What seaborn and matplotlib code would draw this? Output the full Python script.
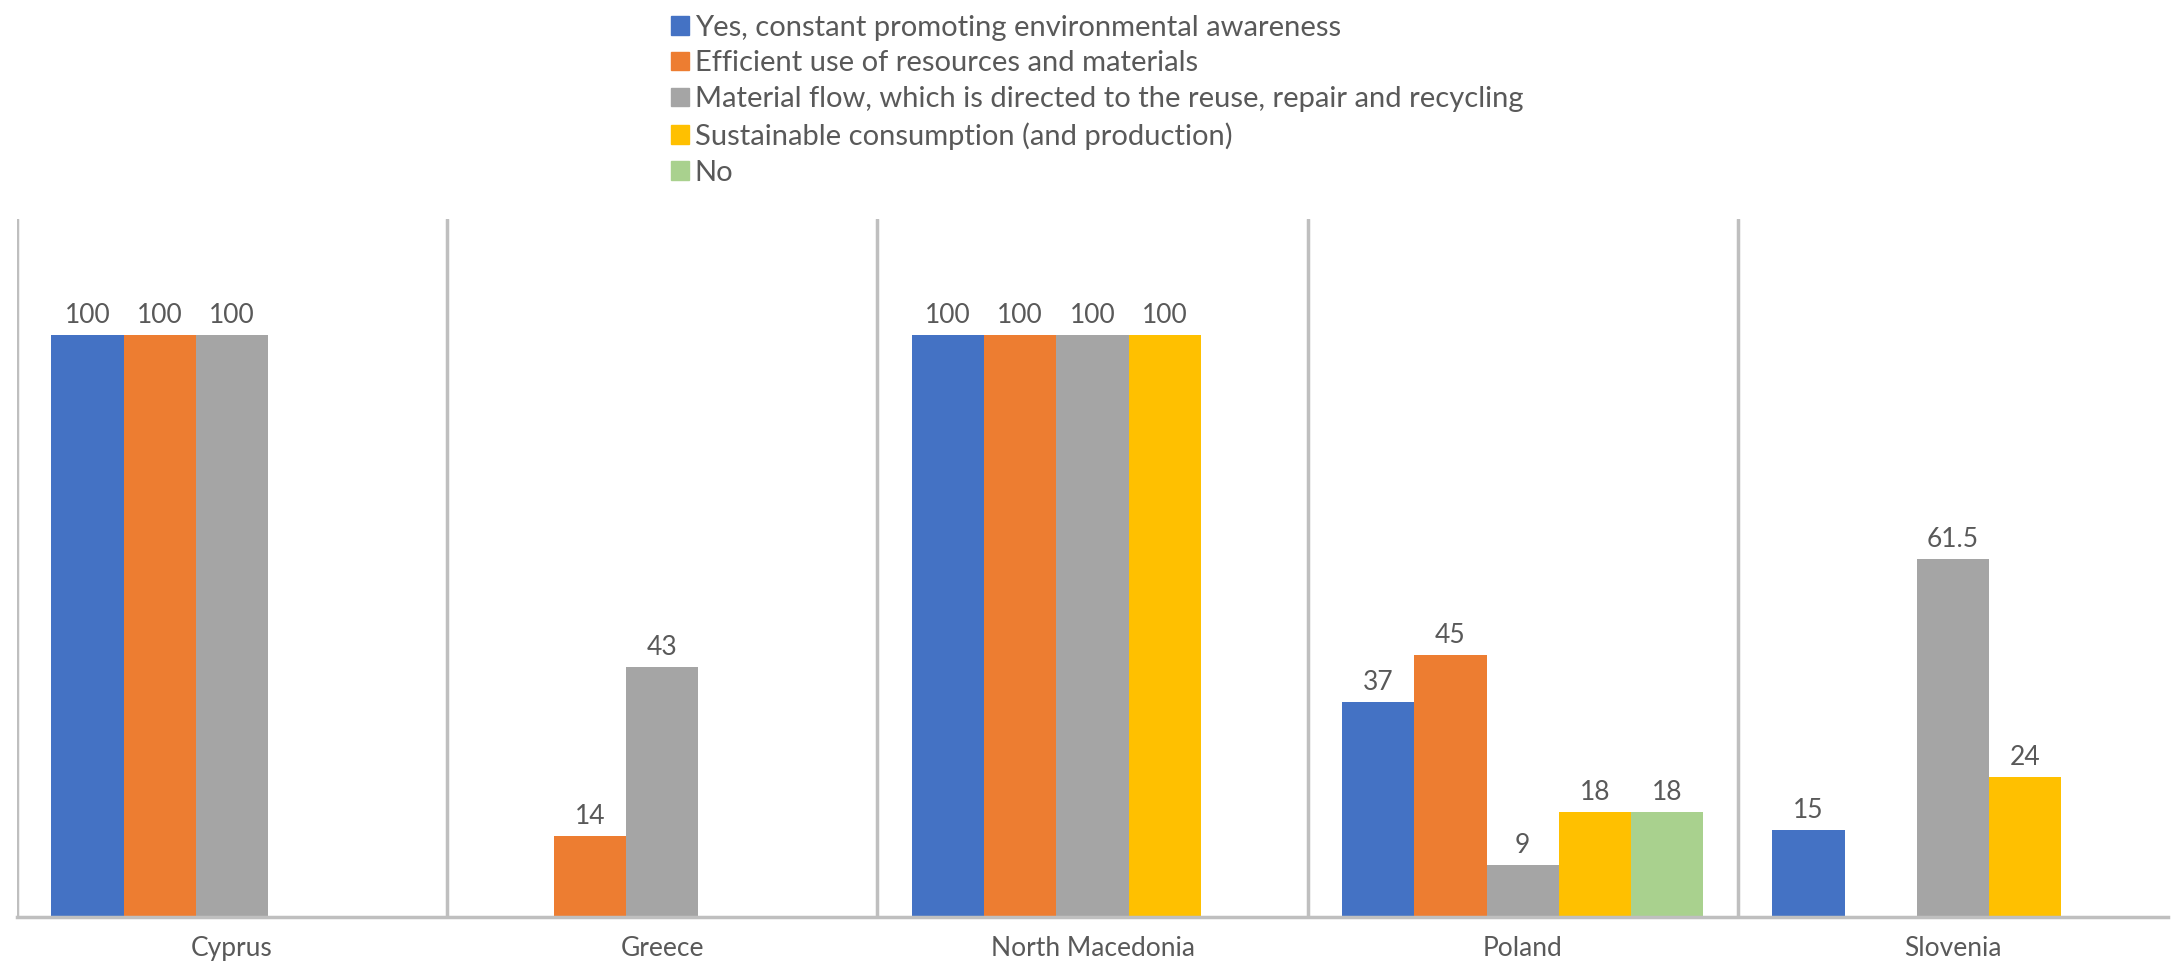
import matplotlib
matplotlib.use("Agg")
import matplotlib.pyplot as plt
import seaborn as sns
import pandas as pd

# chart data
countries = ["Cyprus", "Greece", "North Macedonia", "Poland", "Slovenia"]
answers = [
    "Yes, constant promoting environmental awareness",
    "Efficient use of resources and materials",
    "Material flow, which is directed to the reuse, repair and recycling",
    "Sustainable consumption (and production)",
    "No",
]
yes_awareness = [100, 0, 100, 37, 15]
efficient_use = [100, 14, 100, 45, 0]
material_flow = [100, 43, 100, 9, 61.5]
sustainable = [0, 0, 100, 18, 24]
no_answer = [0, 0, 0, 18, 0]
colors = ["#4472C4", "#ED7D31", "#A5A5A5", "#FFC000", "#A9D18E"]

series = [yes_awareness, efficient_use, material_flow, sustainable, no_answer]
rows = []
for ans, vals in zip(answers, series):
    for c, v in zip(countries, vals):
        rows.append({"country": c, "answer": ans, "value": v})
df = pd.DataFrame(rows)

sns.set_style("white")
plt.rcParams["font.family"] = ["Lato", "DejaVu Sans"]

fig = plt.figure(figsize=(21.75, 9.63), dpi=100)
ax = fig.add_axes([0.0078, 0.0478, 0.989, 0.7248])

sns.barplot(data=df, x="country", y="value", hue="answer", hue_order=answers,
            order=countries, palette=colors, width=0.84, gap=0, linewidth=0,
            saturation=1, legend=False, ax=ax)

# value labels, skip empty bars
for cont in ax.containers:
    labels = []
    for b in cont:
        h = b.get_height()
        if h == 0:
            labels.append("")
        elif h == int(h):
            labels.append(str(int(h)))
        else:
            labels.append(str(h))
    ax.bar_label(cont, labels=labels, padding=5, fontsize=19, color="#595959")

ax.set_ylim(0, 120)
ax.set_xlim(-0.5, 4.5)
ax.set_yticks([])
ax.set_xlabel("")
ax.set_ylabel("")
ax.tick_params(axis="x", length=0, labelsize=19, labelcolor="#595959", pad=14)
for s in ["top", "right", "left"]:
    ax.spines[s].set_visible(False)
ax.spines["bottom"].set_color("#BFBFBF")
ax.spines["bottom"].set_linewidth(2.5)

# separators between countries
for x in [-0.5, 0.5, 1.5, 2.5, 3.5]:
    ax.axvline(x, color="#BFBFBF", lw=2.5, zorder=0)

handles = [plt.Rectangle((0, 0), 1, 1, color=c) for c in colors]
fig.legend(handles, answers, loc="upper left", bbox_to_anchor=(0.302, 1.0),
           frameon=False, fontsize=21, handlelength=0.6, handleheight=0.6,
           handletextpad=0.2, labelspacing=0.34, labelcolor="#595959",
           borderaxespad=0.1)

fig.savefig("out.png", dpi=100, facecolor="white")
